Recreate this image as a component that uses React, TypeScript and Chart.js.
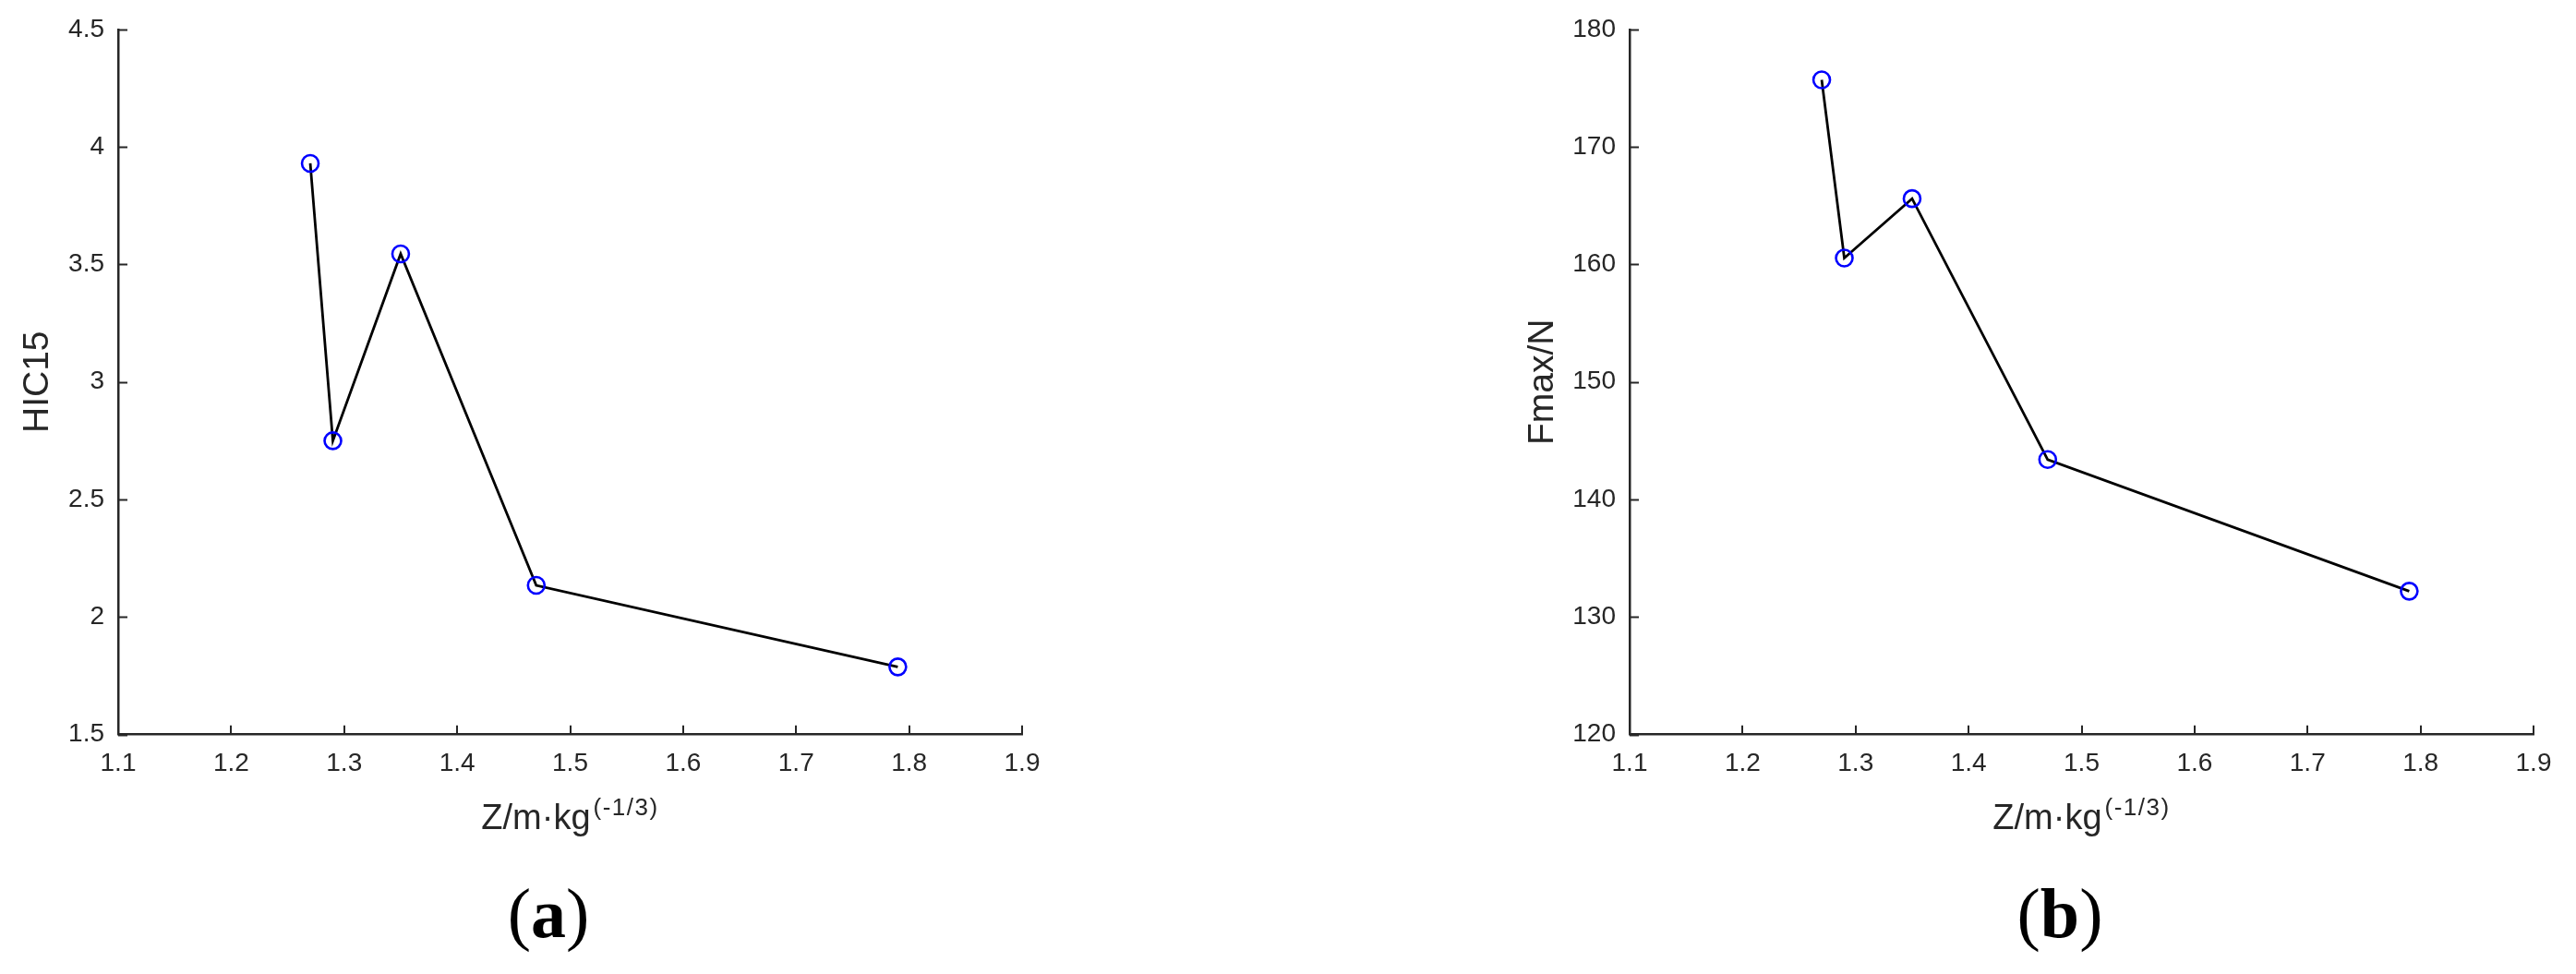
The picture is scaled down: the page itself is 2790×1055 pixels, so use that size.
import React, { useEffect, useRef } from 'react';
import { Chart, registerables } from 'chart.js';

Chart.register(...registerables);

// ---- data ----
const zValues = [1.27, 1.29, 1.35, 1.47, 1.79];
const hic15Values = [3.93, 2.75, 3.545, 2.135, 1.788];
const fmaxValues = [175.7, 160.55, 165.6, 143.4, 132.2];

const xRange = [1.1, 1.9];
const xStep = 0.1;
const hicRange = [1.5, 4.5];
const hicStep = 0.5;
const fmaxRange = [120, 180];
const fmaxStep = 10;

const xTitleMain = 'Z/m·kg';
const xTitleSup = '(-1/3)';
const yTitles = ['HIC15', 'Fmax/N'];
const panelLetters = ['a', 'b'];

// ---- style ----
const AXIS_COLOR = '#262626';
const SANS = '"Liberation Sans", Arial, Helvetica, sans-serif';
const SERIF = '"Liberation Serif", "Times New Roman", serif';

const decorPlugin = {
  id: 'matlabDecor',
  afterDraw(chart: any) {
    const { ctx, chartArea: ca } = chart;
    const xs = chart.scales.x;
    const ys = chart.scales.y;
    const letter: string = chart.options.plugins.matlabDecor.letter;
    ctx.save();
    // inward ticks
    ctx.strokeStyle = AXIS_COLOR;
    ctx.lineWidth = 2;
    ys.ticks.forEach((t: any) => {
      const py = Math.round(ys.getPixelForValue(t.value)) + 0.5;
      ctx.beginPath();
      ctx.moveTo(ca.left, py);
      ctx.lineTo(ca.left + 10, py);
      ctx.stroke();
    });
    xs.ticks.forEach((t: any) => {
      const px = Math.round(xs.getPixelForValue(t.value));
      ctx.beginPath();
      ctx.moveTo(px, ca.bottom);
      ctx.lineTo(px, ca.bottom - 10);
      ctx.stroke();
    });
    // x title with superscript
    const cx = (ca.left + ca.right) / 2;
    ctx.fillStyle = AXIS_COLOR;
    ctx.textBaseline = 'alphabetic';
    ctx.textAlign = 'left';
    const mainFont = `38px ${SANS}`;
    const supFont = `26px ${SANS}`;
    ctx.font = mainFont;
    const w1 = ctx.measureText(xTitleMain).width;
    ctx.font = supFont;
    (ctx as any).letterSpacing = '1.5px';
    const w2 = ctx.measureText(xTitleSup).width;
    (ctx as any).letterSpacing = '0px';
    const start = cx - (w1 + w2 + 3) / 2;
    const base = ca.bottom + 102;
    ctx.font = mainFont;
    ctx.fillText(xTitleMain, start, base);
    ctx.font = supFont;
    (ctx as any).letterSpacing = '1.5px';
    ctx.fillText(xTitleSup, start + w1 + 3, base - 15);
    (ctx as any).letterSpacing = '0px';
    // panel label (a)/(b)
    ctx.fillStyle = '#000';
    const pf = `76px ${SERIF}`;
    const bf = `bold 76px ${SERIF}`;
    ctx.font = pf;
    const wp1 = ctx.measureText('(').width;
    const wp3 = ctx.measureText(')').width;
    ctx.font = bf;
    const wl = ctx.measureText(letter).width;
    const lx = cx - 23.5 - (wp1 + wl + wp3) / 2;
    const lb = ca.bottom + 219;
    ctx.font = pf;
    ctx.fillText('(', lx, lb);
    ctx.font = bf;
    ctx.fillText(letter, lx + wp1, lb);
    ctx.font = pf;
    ctx.fillText(')', lx + wp1 + wl, lb);
    ctx.restore();
  },
};

function makeConfig(
  yValues: number[],
  yRange: number[],
  yStep: number,
  yTitle: string,
  letter: string,
  padLeft: number,
  yWidth: number,
  padRight: number
): any {
  return {
    type: 'scatter',
    data: {
      datasets: [
        {
          data: zValues.map((z, i) => ({ x: z, y: yValues[i] })),
          showLine: true,
          borderColor: '#000000',
          borderWidth: 2.8,
          pointStyle: 'circle',
          pointRadius: 9,
          pointHoverRadius: 9,
          pointBorderWidth: 2.6,
          pointBorderColor: '#0000ff',
          pointBackgroundColor: 'rgba(0,0,0,0)',
          tension: 0,
        },
      ],
    },
    options: {
      responsive: false,
      animation: false,
      events: [],
      layout: { padding: { left: padLeft, right: padRight, top: 31.7, bottom: 0 } },
      plugins: {
        legend: { display: false },
        tooltip: { enabled: false },
        matlabDecor: { letter },
      },
      scales: {
        x: {
          type: 'linear',
          min: xRange[0],
          max: xRange[1],
          afterFit: (s: any) => {
            s.height = 259.3;
          },
          ticks: {
            stepSize: xStep,
            padding: 15,
            color: AXIS_COLOR,
            font: { family: SANS, size: 28 },
            callback: (v: any) => Number(v).toFixed(1),
            maxRotation: 0,
            autoSkip: false,
          },
          grid: { display: false, drawTicks: false },
          border: { display: true, color: AXIS_COLOR, width: 2.5 },
        },
        y: {
          type: 'linear',
          min: yRange[0],
          max: yRange[1],
          afterFit: (s: any) => {
            s.width = yWidth;
          },
          ticks: {
            stepSize: yStep,
            padding: 15,
            color: AXIS_COLOR,
            font: { family: SANS, size: 28 },
            callback: (v: any) => String(Number(Number(v).toFixed(3))),
            autoSkip: false,
          },
          grid: { display: false, drawTicks: false },
          border: { display: true, color: AXIS_COLOR, width: 2.5 },
          title: {
            display: true,
            text: yTitle,
            color: AXIS_COLOR,
            font: { family: SANS, size: 39 },
            padding: { top: 17.6, bottom: 0 },
          },
        },
      },
    },
    plugins: [decorPlugin],
  };
}

function Panel(props: { config: any; left: number; width: number }) {
  const ref = useRef<HTMLCanvasElement | null>(null);
  useEffect(() => {
    if (!ref.current) return;
    const chart = new Chart(ref.current, props.config);
    return () => chart.destroy();
  }, []);
  return (
    <canvas
      ref={ref}
      width={props.width}
      height={1055}
      style={{ position: 'absolute', left: props.left, top: 0, width: props.width, height: 1055 }}
    />
  );
}

export default function App() {
  const leftCfg = makeConfig(hic15Values, hicRange, hicStep, yTitles[0], panelLetters[0], 0, 128, 288);
  const rightCfg = makeConfig(fmaxValues, fmaxRange, fmaxStep, yTitles[1], panelLetters[1], 235, 135, 46);
  return (
    <div
      style={{
        position: 'fixed',
        left: 0,
        top: 0,
        width: 2790,
        height: 1055,
        background: '#ffffff',
        overflow: 'hidden',
      }}
    >
      <Panel config={leftCfg} left={0} width={1395} />
      <Panel config={rightCfg} left={1395} width={1395} />
    </div>
  );
}
